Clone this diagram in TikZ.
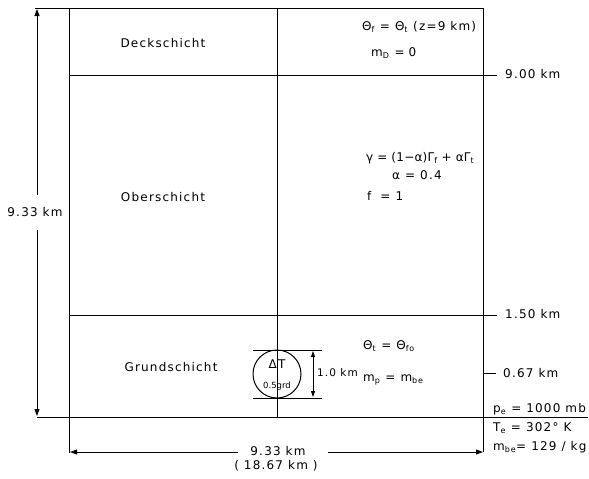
\documentclass[tikz,border=0pt]{standalone}
\usepackage{fontspec}
\setmainfont{DejaVu Sans}[LetterSpace=10]
\usetikzlibrary{arrows.meta}
\begin{document}
\begin{tikzpicture}[x=1pt,y=-1pt,
  ln/.style={line width=1pt},
  dim/.style={line width=0.9pt,-{Triangle[length=7pt,width=5pt]}},
  lab/.style={font=\fontsize{12}{14}\selectfont,inner sep=0pt},
  eq/.style={font=\fontsize{12}{14}\selectfont,inner sep=0pt,anchor=west}]
\useasboundingbox (0,0) rectangle (589,479);
% frame coordinates
\coordinate (TL) at (69,8);
\coordinate (TR) at (483,8);
\coordinate (ext) at (35,8);
\coordinate (bext) at (37,417);
\coordinate (bend) at (588,417);
\coordinate (LB) at (69,453);
\coordinate (RB) at (483,452);
% outer lines
\draw[ln] (ext) -- (TR) -- (RB);
\draw[ln] (TL) -- (LB);
\draw[ln] (bext) -- (bend);
% layer boundaries
\coordinate (h9a) at (69,75); \coordinate (h9b) at (497,75);
\coordinate (h15a) at (69,315); \coordinate (h15b) at (497,315);
\draw[ln] (h9a) -- (h9b);
\draw[ln] (h15a) -- (h15b);
\node[lab,anchor=west] (l9) at (505,74) {9.00 km};
\node[lab,anchor=west] (l15) at (505,314) {1.50 km};
\coordinate (t67a) at (483,373); \coordinate (t67b) at (496,373);
\draw[ln] (t67a) -- (t67b);
\node[lab,anchor=west] (l67) at (503,373) {0.67 km};
% center line
\coordinate (ct) at (277,8); \coordinate (cb) at (277,417);
\draw[ln] (ct) -- (cb);
% layer names
\node[lab] (deck) at (163,43) {Deckschicht};
\node[lab] (ober) at (163,197) {Oberschicht};
\node[lab] (grund) at (171,367) {Grundschicht};
% vertical dimension
\node[lab] (v933) at (35,212) {9.33 km};
\coordinate (va) at (37,195); \coordinate (vt) at (37,9);
\coordinate (vb) at (37,230); \coordinate (vbt) at (37,416);
\draw[dim] (va) -- (vt);
\draw[dim] (vb) -- (vbt);
% horizontal dimension
\node[lab] (h933) at (278,451) {9.33 km};
\node[lab] (h1867) at (276,466) {( 18.67 km )};
\coordinate (ha) at (238,452); \coordinate (ht) at (70,452);
\coordinate (hb) at (328,452); \coordinate (hbt) at (483,452);
\draw[dim] (ha) -- (ht);
\draw[dim] (hb) -- (hbt);
% bubble
\node[circle,draw,line width=1pt,minimum size=48pt,inner sep=0pt] (bub) at (277,374) {};
\node[inner sep=0pt,font=\fontsize{12}{13}\selectfont] (dT) at (277,364) {ΔT};
\node[inner sep=0pt,font=\fontsize{8.5}{9}\selectfont\addfontfeature{LetterSpace=0}] (grd) at (277,386) {0.5grd};
\coordinate (ua) at (253,350); \coordinate (ub) at (322,350);
\coordinate (da) at (253,398); \coordinate (db) at (322,398);
\draw[ln] (ua) -- (ub);
\draw[ln] (da) -- (db);
\coordinate (am) at (313,374);
\coordinate (au) at (313,351); \coordinate (ad) at (313,397);
\draw[line width=0.8pt,-{Triangle[length=6pt,width=4pt]}] (am) -- (au);
\draw[line width=0.8pt,-{Triangle[length=6pt,width=4pt]}] (am) -- (ad);
\node[inner sep=0pt,anchor=west,font=\fontsize{10.5}{12}\selectfont] (l10) at (317,373) {1.0 km};
% equations
\node[eq] (e1) at (362,27) {Θ\textsubscript{f} = Θ\textsubscript{t} (z=9 km)};
\node[eq] (e2) at (371,53) {m\textsubscript{D} =\,\,0};
\node[eq,font=\fontsize{12}{14}\selectfont\addfontfeature{LetterSpace=2}] (e3) at (366,158) {γ = (1−α)Γ\textsubscript{f} + αΓ\textsubscript{t}};
\node[eq] (e4) at (392,175) {α = 0.4};
\node[eq] (e5) at (367,196) {f\,\, = 1};
\node[eq] (e6) at (363,346) {Θ\textsubscript{t} = Θ\textsubscript{fo}};
\node[eq] (e7) at (363,380) {m\textsubscript{p} = m\textsubscript{be}};
\node[eq] (e8) at (493,409) {p\textsubscript{e} = 1000 mb};
\node[eq] (e9) at (493,428) {T\textsubscript{e} = 302° K};
\node[eq] (e10) at (493,447) {m\textsubscript{be}= 129 / kg};
\end{tikzpicture}
\end{document}
